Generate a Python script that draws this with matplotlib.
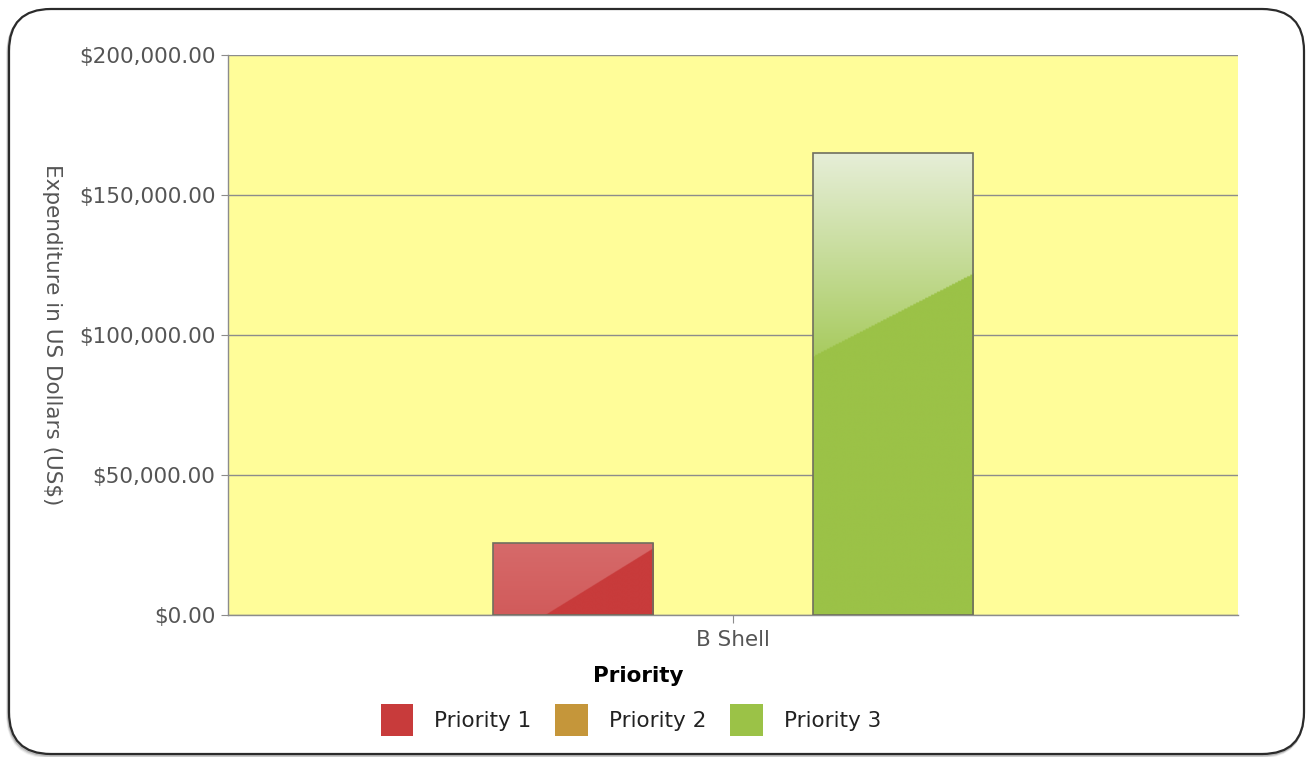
import numpy as np
import matplotlib.pyplot as plt
from matplotlib.patches import FancyBboxPatch, Patch
from matplotlib.ticker import FuncFormatter, MultipleLocator

# data
categories = ['B Shell']
series = ['Priority 1', 'Priority 2', 'Priority 3']
values = [25700, 0, 165000]
colors = ['#C83B3B', '#C5963A', '#9BC247']

# glossy look for each bar: top colour, colour at gloss edge, line of gloss (left, right)
gloss = {
    'Priority 1': ('#d66a6a', '#cf5454', 1.45, 0.07),
    'Priority 2': ('#d8b06a', '#cc9f48', 0.44, 0.26),
    'Priority 3': ('#e6eed7', '#a8cb5f', 0.44, 0.26),
}

TXT = '#555555'
FS = 15.5


def hex2rgb(c):
    c = c.lstrip('#')
    return np.array([int(c[i:i + 2], 16) / 255 for i in (0, 2, 4)])


def gloss_image(top, mid, base, vl, vr, n=300):
    v = np.linspace(0, 1, n)[:, None]
    u = np.linspace(0, 1, n)[None, :]
    edge = vl + (vr - vl) * u
    t = np.clip(v / max(vl, vr, 0.01), 0, 1)[..., None]
    shine = hex2rgb(top) * (1 - t) + hex2rgb(mid) * t
    shine = np.broadcast_to(shine, (n, n, 3))
    mask = (v < edge)[..., None]
    return np.where(mask, shine, np.broadcast_to(hex2rgb(base), (n, n, 3)))


fig = plt.figure(figsize=(13.08, 7.57), dpi=100)
fig.patch.set_facecolor('white')

# rounded frame with a soft shadow
for off, a in [(3, 0.06), (2, 0.1), (1, 0.16)]:
    sh = FancyBboxPatch((0.09 - off / 200, 0.03 - off / 100), 12.95, 7.45,
                        boxstyle='round,pad=0,rounding_size=0.42',
                        transform=fig.dpi_scale_trans, facecolor='none',
                        edgecolor='black', alpha=a, lw=2, zorder=-2)
    fig.add_artist(sh)
frame = FancyBboxPatch((0.09, 0.03), 12.95, 7.45,
                       boxstyle='round,pad=0,rounding_size=0.42',
                       transform=fig.dpi_scale_trans, facecolor='white',
                       edgecolor='#2b2b2b', lw=1.6, zorder=-1)
fig.add_artist(frame)

ax = fig.add_axes([228 / 1308, 1 - 615 / 757, 1010 / 1308, 560 / 757])
ax.set_facecolor('#FFFD99')

w = 0.1585
x = np.arange(len(categories))
for i, (name, val, col) in enumerate(zip(series, values, colors)):
    bars = ax.bar(x + (i - 1) * w, [val], w, color=col, zorder=3)
    for rect in bars:
        if rect.get_height() <= 0:
            continue
        top, mid, vl, vr = gloss[name]
        img = gloss_image(top, mid, col, vl, vr)
        x0, y0 = rect.get_x(), rect.get_y()
        im = ax.imshow(img, extent=(x0, x0 + rect.get_width(), y0, y0 + rect.get_height()),
                       origin='upper', aspect='auto', zorder=3, interpolation='bilinear')
        im.set_clip_path(rect)
        rect.set_facecolor('none')
        rect.set_edgecolor('#6f6f5f')
        rect.set_linewidth(1.2)
        rect.set_zorder(4)

ax.set_xlim(-0.5, 0.5)
ax.set_ylim(0, 200000)
ax.yaxis.set_major_locator(MultipleLocator(50000))
ax.yaxis.set_major_formatter(FuncFormatter(lambda v, p: '${:,.2f}'.format(v)))
ax.set_xticks(x)
ax.set_xticklabels(categories)
ax.grid(axis='y', color='#8c8c8c', lw=1, zorder=1)
ax.set_axisbelow(True)
for s in ['top', 'right']:
    ax.spines[s].set_visible(False)
for s in ['left', 'bottom']:
    ax.spines[s].set_color('#8c8c8c')
    ax.spines[s].set_linewidth(1)
ax.tick_params(axis='y', colors='#8c8c8c', labelcolor=TXT, labelsize=FS, length=5, pad=4)
ax.tick_params(axis='x', colors='#8c8c8c', labelcolor=TXT, labelsize=FS, length=6, pad=5)

fig.text(638 / 1308, 1 - 676 / 757, 'Priority', ha='center', va='center',
         fontsize=FS, fontweight='bold', color='black')
fig.text(52 / 1308, 1 - 335 / 757, 'Expenditure in US Dollars (US$)', rotation=270,
         ha='center', va='center', fontsize=FS, color=TXT)

handles = [Patch(facecolor=c, edgecolor='none') for c in colors]
fig.legend(handles, series, loc='center', bbox_to_anchor=(631 / 1308, 1 - 720 / 757),
           ncol=3, frameon=False, fontsize=FS, handlelength=1.5, handleheight=1.9,
           handletextpad=1.0, columnspacing=1.1, labelcolor='#222222')

fig.savefig('out.png', dpi=100)
